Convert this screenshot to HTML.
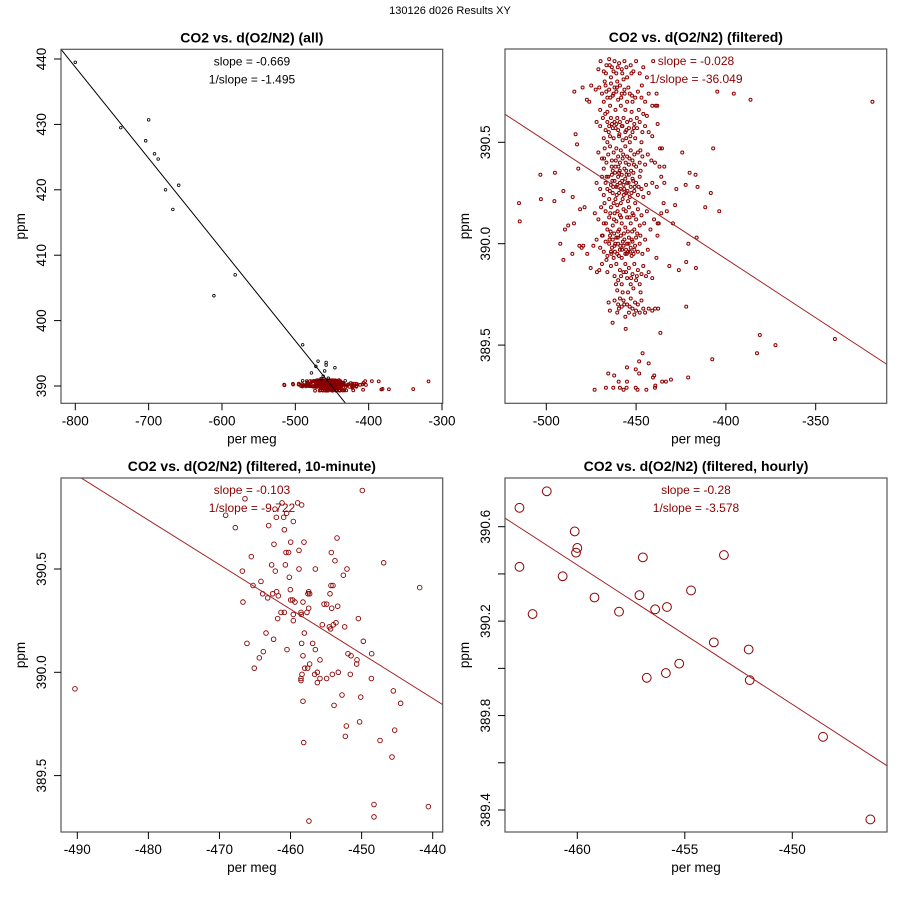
<!DOCTYPE html>
<html><head><meta charset="utf-8"><style>
html,body{margin:0;padding:0;background:#fff;overflow:hidden;width:900px;height:900px;}
svg{display:block;font-family:"Liberation Sans",Arial,sans-serif;}
</style></head><body>
<svg id="chart" width="900" height="900" viewBox="0 0 900 900" xmlns="http://www.w3.org/2000/svg">
<rect width="900" height="900" fill="#fff"/>
<text x="450" y="14" font-size="11" text-anchor="middle" fill="#000">130126   d026   Results XY</text>
</svg>
<script>
// ---- data ----
const p1OtherPoints = [[-800,439.5],[-738,429.5],[-704,427.5],[-700,430.7],[-692,425.5],[-687,424.7],[-677,420],[-667,417],[-659,420.7],[-611,403.8],[-582,407],[-490,396.3],[-469,393.8],[-458,393.6],[-446,392.8],[-472,393],[-458,393.2],[-478,392],[-460,392.3],[-490,390.8],[-432,390.8],[-462,391.5],[-455,391.2],[-465,391.1]];
const p2Outliers = [[-515.2,390.2],[-514.8,390.11],[-503.3,390.34],[-503,390.22],[-495.2,390.35],[-495.5,390.21],[-490.5,390.26],[-492.2,390.0],[-490.5,389.92],[-489.6,390.07],[-487.8,390.09],[-485.3,390.23],[-485.5,389.95],[-484.6,390.1],[-483.7,390.54],[-482.9,390.49],[-482.2,390.37],[-481.2,390.17],[-480.3,389.98],[-479.4,389.99],[-478.7,390.18],[-477.2,389.95],[-481.6,389.99],[-484.4,390.75],[-479.8,390.77],[-477.4,390.71],[-476.1,390.7],[-475.3,389.88],[-471.8,389.86],[-473.8,389.99],
[-424.3,390.45],[-420.2,390.35],[-416.9,390.34],[-415.8,390.28],[-422.4,390.29],[-427.6,390.27],[-428.3,390.19],[-432.9,390.16],[-429.5,390.1],[-434.7,390.2],[-434.3,390.3],[-434.3,390.38],[-436.7,390.47],[-435.6,390.47],[-438.6,390.74],[-438.2,390.68],[-438,390.59],[-411.5,390.18],[-408.4,390.25],[-407.1,390.47],[-403.7,390.16],[-416.3,390.03],[-420.9,390.0],[-422.1,389.91],[-416.7,389.88],[-426.2,389.87],[-431.5,389.89],[-422.1,389.69],[-404.8,390.75],[-395.6,390.74],[-386.3,390.71],[-318.4,390.7],[-381.1,389.55],[-372.4,389.5],[-382.7,389.46],[-339.3,389.53],[-407.6,389.43],[-436.5,389.56],[-437.7,389.68],[-439.4,389.68],[-438.7,389.93],[-438.1,390.04],[-437.4,390.1],[-421,389.34],[-430.6,389.33],[-433.4,389.32],[-435.5,389.32],
[-446.4,389.46],[-448.3,389.42],[-443,389.41],[-455.1,389.39],[-448.3,389.36],[-450.2,389.38],[-465.5,389.36],[-462.2,389.35],[-459.7,389.32],[-455.1,389.32],[-473.1,389.28],[-466.8,389.29],[-462.7,389.29],[-459,389.29],[-457,389.28],[-455.3,389.29],[-450.2,389.29],[-449.2,389.28],[-444.3,389.28],[-440.6,389.34],[-439.9,389.35],[-439.3,389.3],[-439.5,389.29],[-463.1,389.61],[-455.8,389.58],[-465.3,389.71],[-464.6,389.67]];
const p2Cluster = [[-471,390.86],[-469.8,390.9],[-468,390.85],[-466.5,390.88],[-465,390.91],[-463.5,390.87],[-462,390.9],[-461,390.84],[-459.5,390.89],[-458,390.86],[-456.5,390.9],[-455,390.82],[-453,390.88],[-451.5,390.85],[-450,390.9],[-448,390.84],[-446,390.87],[-444,390.82],[-440.5,390.9],[-464,390.82],[-460.5,390.8],[-457,390.81],[-467.5,390.8],
[-475,390.78],[-472.5,390.76],[-470.5,390.77],[-469,390.74],[-467,390.78],[-466,390.72],[-465,390.76],[-464,390.79],[-463,390.73],[-462,390.77],[-461,390.75],[-460,390.71],[-459,390.78],[-458,390.74],[-456.5,390.76],[-455,390.7],[-453.5,390.74],[-452,390.7],[-450.5,390.72],[-449,390.75],[-447,390.72],[-445,390.7],[-443,390.74],[-441,390.68],[-439,390.68],[-468,390.7],[-464.5,390.68],[-461.5,390.66],[-458.5,390.68],[-456,390.66],[-452.5,390.65],[-448.5,390.66],[-446,390.64],[-444,390.63],[-470,390.66],[-466,390.65],
[-472,390.6],[-470,390.58],[-468.5,390.62],[-467,390.56],[-466,390.6],[-465,390.58],[-464,390.62],[-463,390.57],[-462,390.6],[-461,390.59],[-460.5,390.62],[-460,390.56],[-459,390.6],[-458,390.58],[-457,390.62],[-456,390.55],[-455,390.6],[-454,390.57],[-453,390.61],[-452,390.55],[-451,390.59],[-449.5,390.57],[-448,390.6],[-446.5,390.55],[-445,390.58],[-443,390.55],[-441,390.53],[-464.5,390.53],[-462.5,390.52],[-459.5,390.53],[-457.5,390.51],[-455.5,390.52],[-453.5,390.5],[-450.5,390.52],[-447,390.5],[-468,390.52],[-466,390.5],
[-471,390.45],[-469,390.42],[-467.5,390.47],[-466.5,390.4],[-465.5,390.44],[-464.5,390.48],[-463.5,390.41],[-462.5,390.45],[-461.5,390.38],[-461,390.47],[-460,390.43],[-459,390.4],[-458.5,390.46],[-457.5,390.42],[-456.5,390.37],[-456,390.48],[-455,390.43],[-454,390.39],[-453,390.46],[-452,390.41],[-451,390.44],[-450,390.38],[-449,390.45],[-448,390.4],[-446.5,390.43],[-445,390.39],[-443.5,390.44],[-441.5,390.41],[-439.5,390.4],[-437,390.38],[-468,390.37],[-463,390.36],[-459.5,390.35],[-455.5,390.36],[-451.5,390.35],[-447.5,390.36],
[-472,390.3],[-470,390.27],[-469,390.33],[-468,390.24],[-467,390.3],[-466,390.27],[-465.5,390.33],[-465,390.22],[-464,390.29],[-463.5,390.34],[-463,390.25],[-462,390.31],[-461.5,390.22],[-461,390.28],[-460,390.33],[-459.5,390.25],[-459,390.3],[-458,390.34],[-457.5,390.22],[-457,390.29],[-456,390.32],[-455.5,390.25],[-455,390.3],[-454,390.34],[-453.5,390.23],[-453,390.28],[-452,390.32],[-451,390.26],[-450,390.3],[-449,390.24],[-448,390.33],[-447,390.27],[-446,390.23],[-444.5,390.29],[-443,390.25],[-441,390.3],[-438.5,390.28],[-436,390.33],[-462.5,390.2],[-458.5,390.2],[-454.5,390.21],[-450.5,390.2],
[-473,390.15],[-471,390.12],[-469.5,390.18],[-468,390.1],[-467,390.16],[-466,390.07],[-465,390.13],[-464,390.18],[-463,390.09],[-462,390.15],[-461,390.11],[-460.5,390.19],[-460,390.06],[-459,390.14],[-458,390.1],[-457,390.17],[-456,390.08],[-455,390.13],[-454,390.18],[-453,390.1],[-452,390.15],[-451,390.07],[-450,390.12],[-449,390.17],[-448,390.09],[-447,390.14],[-445.5,390.1],[-444,390.16],[-442,390.07],[-440,390.12],[-438,390.1],[-436,390.15],
[-472,390.02],[-470,389.98],[-469,390.04],[-468,389.96],[-467,390.01],[-466,389.94],[-465,390.0],[-464.5,390.04],[-464,389.96],[-463,390.02],[-462.5,389.93],[-462,389.99],[-461,390.03],[-460.5,389.95],[-460,390.0],[-459,389.97],[-458.5,390.04],[-458,389.93],[-457,389.99],[-456.5,390.02],[-456,389.95],[-455,390.0],[-454.5,389.96],[-454,390.03],[-453,389.98],[-452.5,389.94],[-452,390.01],[-451,389.97],[-450,390.03],[-449,389.96],[-448,390.0],[-446.5,389.95],[-445,390.02],[-443.5,389.97],[-466.5,389.92],
[-470.5,389.87],[-469,389.9],[-466,389.86],[-464,389.89],[-462,389.84],[-461,389.9],[-460,389.82],[-459,389.87],[-458,389.8],[-457,389.86],[-456,389.9],[-455,389.83],[-454,389.88],[-453,389.8],[-452,389.85],[-451,389.9],[-450,389.82],[-449,389.87],[-448,389.8],[-447,389.85],[-446,389.89],[-444.5,389.84],[-443,389.86],[-441,389.83],[-460.5,389.77],[-457.5,389.76],[-454.5,389.76],[-451.5,389.78],[-447.5,389.76],
[-462,389.72],[-460,389.7],[-459,389.73],[-458,389.69],[-457,389.72],[-455,389.7],[-454,389.66],[-453,389.73],[-452,389.68],[-451,389.65],[-450,389.67],[-449,389.7],[-448,389.66],[-447,389.72],[-446,389.68],[-445,389.66],[-443,389.68],[-441,389.67],[-460.5,389.66],[-456,389.64]];
const p2ClusterCore = [[-463.2,390.31],[-461.7,390.35],[-460.4,390.29],[-459.1,390.36],[-457.8,390.31],[-456.6,390.27],[-455.3,390.34],[-454.2,390.3],[-452.8,390.36],[-451.6,390.31],[-464.6,390.26],[-462.8,390.28],[-460.8,390.24],[-458.6,390.27],[-456.9,390.24],[-454.8,390.26],[-452.6,390.25],[-450.8,390.28],[-463.6,390.38],[-461.3,390.41],[-459.8,390.38],[-457.2,390.44],[-455.8,390.4],[-453.7,390.42],[-451.2,390.39],[-464.8,390.02],[-463.4,389.98],[-461.6,390.0],[-460.2,390.03],[-458.8,389.99],[-457.4,390.01],[-455.6,389.97],[-454.2,390.0],[-452.4,390.02],[-450.6,389.99],[-463.8,389.95],[-461.8,389.96],[-459.6,389.94],[-457.8,389.97],[-455.2,389.95],[-453.4,389.96],[-451.4,389.95],[-464.2,390.06],[-462.2,390.05],[-459.4,390.07],[-456.8,390.05],[-454.6,390.06],[-452.2,390.06],[-465.2,390.55],[-463.4,390.59],[-461.4,390.57],[-459.3,390.54],[-457.6,390.58],[-455.4,390.56],[-453.2,390.53],[-451.3,390.57],[-466.6,390.75],[-464.3,390.72],[-462.6,390.74],[-460.7,390.77],[-458.3,390.72],[-456.4,390.74],[-454.3,390.77],[-452.3,390.73],[-464.7,390.88],[-462.6,390.85],[-460.2,390.87],[-457.7,390.84],[-455.4,390.87],[-452.6,390.84],[-462.3,390.12],[-460.3,390.16],[-458.4,390.13],[-455.7,390.16],[-453.6,390.13],[-451.4,390.14],[-464.4,390.15],[-466.4,390.33],[-467.6,390.2],[-466.8,390.1],[-467.8,390.42],[-467.2,390.64],[-466.8,390.84],[-468.6,390.04],[-461.2,389.8],[-458.4,389.84],[-455.6,389.86],[-452.8,389.83],[-449.6,389.84],[-459.6,389.68],[-456.6,389.7],[-453.6,389.69],[-450.6,389.71],[-449.4,390.05],[-447.6,390.04],[-448.6,390.28],[-447.6,390.46],[-449.6,390.62],[-446.8,390.78]];
const p3Points = [[-490.33,389.92],[-469.13,390.76],[-466.41,390.84],[-467.77,390.70],[-465.52,390.56],[-466.78,390.49],[-466.69,390.34],[-466.13,390.14],[-465.10,390.02],[-464.39,390.07],[-463.83,390.10],[-463.45,390.19],[-464.16,390.44],[-463.92,390.38],[-465.28,390.42],[-463.22,390.36],[-463.08,390.71],[-462.33,390.62],[-462.66,390.52],[-462.14,390.49],[-462.38,390.16],[-462.52,390.38],[-461.95,390.39],[-461.72,390.37],[-461.81,390.26],[-461.34,390.29],[-460.87,390.29],[-460.50,390.11],[-462.0,390.75],[-462.19,390.79],[-461.20,390.82],[-460.97,390.75],[-460.87,390.69],[-460.55,390.77],[-460.64,390.58],[-460.27,390.58],[-460.73,390.52],[-460.17,390.46],[-460.03,390.40],[-459.98,390.63],[-459.98,390.35],[-459.70,390.35],[-459.37,390.34],[-459.61,390.28],[-459.61,390.25],[-459.61,390.73],[-459.0,390.82],[-458.44,390.81],[-458.81,390.59],[-458.81,390.50],[-458.53,390.29],[-458.48,390.28],[-458.25,390.34],[-458.11,390.63],[-458.06,390.19],[-458.44,390.14],[-458.25,390.08],[-458.39,389.99],[-458.53,389.97],[-458.53,389.96],[-458.25,389.86],[-458.15,389.66],[-458.01,390.02],[-457.69,390.29],[-457.55,390.38],[-457.45,390.39],[-457.31,390.38],[-457.45,390.31],[-457.31,390.04],[-457.59,390.02],[-456.89,390.14],[-456.51,390.11],[-456.51,390.50],[-456.61,389.99],[-456.23,390.0],[-456.23,389.95],[-455.86,390.06],[-455.86,389.97],[-455.53,390.23],[-455.29,390.33],[-454.92,390.33],[-454.92,389.97],[-454.54,390.22],[-454.36,390.21],[-454.21,390.31],[-454.45,390.38],[-454.31,390.42],[-454.03,390.42],[-454.26,390.58],[-453.75,390.54],[-453.46,390.65],[-453.98,390.23],[-453.61,390.24],[-453.37,390.32],[-453.28,390.0],[-454.12,389.99],[-452.57,390.47],[-452.06,390.5],[-452.39,390.22],[-451.92,390.09],[-451.49,390.08],[-451.59,389.99],[-452.76,389.89],[-453.88,389.84],[-450.65,390.06],[-450.70,390.04],[-450.13,389.88],[-450.46,390.26],[-449.76,390.15],[-449.90,390.88],[-448.59,390.09],[-448.63,389.97],[-446.90,390.53],[-450.28,389.76],[-452.15,389.74],[-452.29,389.69],[-445.54,389.91],[-444.51,389.85],[-447.41,389.67],[-445.35,389.72],[-445.73,389.59],[-448.26,389.36],[-448.26,389.30],[-457.41,389.28],[-440.61,389.35],[-441.83,390.41]];
const p4Points = [[-462.69,390.68],[-461.42,390.75],[-460.12,390.58],[-460.0,390.51],[-460.06,390.49],[-462.69,390.43],[-460.68,390.39],[-459.2,390.30],[-462.08,390.23],[-458.06,390.24],[-456.95,390.47],[-457.11,390.31],[-456.38,390.25],[-455.83,390.26],[-454.71,390.33],[-453.18,390.48],[-453.65,390.11],[-452.03,390.08],[-451.98,389.95],[-455.26,390.02],[-455.88,389.98],[-456.77,389.96],[-448.57,389.71],[-446.37,389.36]];
const fitSlopes = [-0.1395, -0.0058, -0.02157, -0.05903];
const fitIntercepts = [327.16, 387.605, 380.383, 363.284];
const p1XTicks = [-800,-700,-600,-500,-400,-300];
const p1YTicks = [390,400,410,420,430,440];
const p2XTicks = [-500,-450,-400,-350];
const p2YTicks = [389.5,390.0,390.5];
const p3XTicks = [-490,-480,-470,-460,-450,-440];
const p3YTicks = [389.5,390.0,390.5];
const p4XTicks = [-460,-455,-450];
const p4YTicks = [389.4,389.6,389.8,390.0,390.2,390.4,390.6];
const p4YLabelTicks = [389.4,389.8,390.2,390.6];
const slopeLabels = [["slope = -0.669","1/slope = -1.495"],["slope = -0.028","1/slope = -36.049"],["slope = -0.103","1/slope = -9.722"],["slope = -0.28","1/slope = -3.578"]];

const NS = "http://www.w3.org/2000/svg";
const svg = document.getElementById('chart');
const RED = "#8b0000", LINE = "#a52020";
function mk(tag, attrs, parent){ const e=document.createElementNS(NS,tag); for(const k in attrs) e.setAttribute(k,attrs[k]); (parent||svg).appendChild(e); return e; }
function lin(d0,d1,p0,p1){ return v => p0 + (v-d0)*(p1-p0)/(d1-d0); }

const panels = [
 {id:1,title:"CO2 vs. d(O2/N2) (all)",box:[61,49.3,442.7,403.3],sx:lin(-800,-300,75.3,442),sy:lin(390,440,386,59),xt:p1XTicks,yt:p1YTicks,ytl:p1YTicks,xd:v=>String(v),yd:v=>String(v),lineCol:"#000",txtCol:"#000",cx:252},
 {id:2,title:"CO2 vs. d(O2/N2) (filtered)",box:[505,49,886.7,403.3],sx:lin(-500,-350,546.3,815.7),sy:lin(390,390.5,243.7,142.3),xt:p2XTicks,yt:p2YTicks,ytl:p2YTicks,xd:v=>String(v),yd:v=>v.toFixed(1),lineCol:LINE,txtCol:RED,cx:696},
 {id:3,title:"CO2 vs. d(O2/N2) (filtered, 10-minute)",box:[61,478,442.7,832],sx:lin(-490,-440,77.3,432.7),sy:lin(390,390.5,672.3,569),xt:p3XTicks,yt:p3YTicks,ytl:p3YTicks,xd:v=>String(v),yd:v=>v.toFixed(1),lineCol:LINE,txtCol:RED,cx:252},
 {id:4,title:"CO2 vs. d(O2/N2) (filtered, hourly)",box:[505,478,887,832],sx:lin(-460,-450,577.3,792.3),sy:lin(390.6,389.4,526.7,810),xt:p4XTicks,yt:p4YTicks,ytl:p4YLabelTicks,xd:v=>String(v),yd:v=>v.toFixed(1),lineCol:LINE,txtCol:RED,cx:696}
];

panels.forEach((P,i)=>{
  const [x0,y0,x1,y1]=P.box;
  const g = mk('g',{});
  
  
  const cp = mk('clipPath',{id:'clip'+P.id},g);
  mk('rect',{x:x0,y:y0,width:x1-x0,height:y1-y0},cp);
  const t = mk('text',{x:(x0+x1)/2,y:y0-7,'font-size':14,'font-weight':'bold','text-anchor':'middle'},g);
  t.textContent=P.title;
  
  
  const pg = mk('g',{'clip-path':'url(#clip'+P.id+')'},g);
  
  
  function dots(arr,r,col,sw){ arr.forEach(p=>{ const c=mk('circle',{cx:P.sx(p[0]),cy:P.sy(p[1]),r:r,fill:'none',stroke:col,'stroke-width':sw},pg);
    
     }); }
  if(P.id===1){ dots(p2Outliers,1.4,RED,1); dots(p2Cluster,1.4,RED,1); dots(p2ClusterCore,1.4,RED,1); dots(p1OtherPoints,1.3,"#000",0.8); }
  if(P.id===2){ dots(p2Outliers,1.5,RED,1); dots(p2Cluster,1.5,RED,1); dots(p2ClusterCore,1.5,RED,1); }
  if(P.id===3){ dots(p3Points,2.3,RED,0.9); }
  if(P.id===4){ dots(p4Points,4.4,RED,1); }
  const xa=-900, xb=0;
  const ln = mk('line',{x1:P.sx(xa),y1:P.sy(fitIntercepts[i]+fitSlopes[i]*xa),x2:P.sx(xb),y2:P.sy(fitIntercepts[i]+fitSlopes[i]*xb),stroke:P.lineCol,'stroke-width':1,'clip-path':'url(#clip'+P.id+')'},g);
  
  
  const bx = mk('rect',{x:x0,y:y0,width:x1-x0,height:y1-y0,fill:'none',stroke:'#555','stroke-width':1.2},g);
  
  
  slopeLabels[i].forEach((s,k)=>{
    const st=mk('text',{x:P.cx,y:y0+16+k*18,'font-size':12,'text-anchor':'middle',fill:P.txtCol},g);
    st.textContent=s;
    
    
  });
  P.xt.forEach(v=>{
    const px=P.sx(v);
    mk('line',{x1:px,y1:y1,x2:px,y2:y1+7,stroke:'#000','stroke-width':1},g);
    const tl=mk('text',{x:px,y:y1+22,'font-size':13.5,'text-anchor':'middle'},g);
    tl.textContent=P.xd(v);
    
    
  });
  P.yt.forEach(v=>{
    const py=P.sy(v);
    mk('line',{x1:x0-7,y1:py,x2:x0,y2:py,stroke:'#000','stroke-width':1},g);
  });
  P.ytl.forEach(v=>{
    const py=P.sy(v);
    const tl=mk('text',{x:x0-15,y:py,'font-size':13.5,'text-anchor':'middle',transform:'rotate(-90 '+(x0-15)+' '+py+')'},g);
    tl.textContent=P.yd(v);
    
    
  });
  const xt=mk('text',{x:(x0+x1)/2,y:y1+40,'font-size':13.5,'text-anchor':'middle'},g);
  xt.textContent='per meg';
  
  
  const ym=(y0+y1)/2;
  const yt=mk('text',{x:x0-36,y:ym,'font-size':13.5,'text-anchor':'middle',transform:'rotate(-90 '+(x0-36)+' '+ym+')'},g);
  yt.textContent='ppm';
  
  
});
</script>
</body></html>
